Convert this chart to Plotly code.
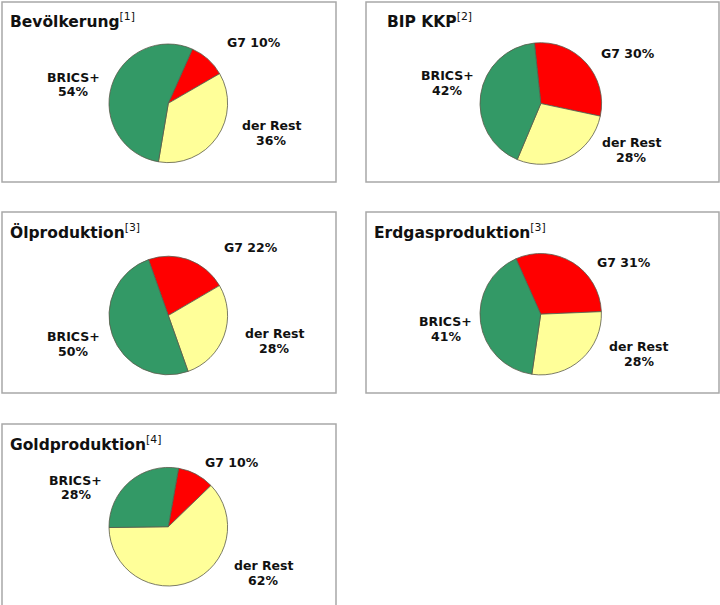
import plotly.graph_objects as go

W, H = 720, 605

categories = ["G7", "der Rest", "BRICS+"]
colors = ["#FF0000", "#FFFF99", "#339966"]

titles = ["Bevölkerung", "BIP KKP", "Ölproduktion", "Erdgasproduktion", "Goldproduktion"]
refs = ["[1]", "[2]", "[3]", "[3]", "[4]"]

# shares in percent: G7, der Rest, BRICS+
bevoelkerung = [10, 36, 54]
bip_kkp = [30, 28, 42]
oel = [22, 28, 50]
erdgas = [31, 28, 41]
gold = [10, 62, 28]
series = [bevoelkerung, bip_kkp, oel, erdgas, gold]

# layout (pixels)
rotations = [24, -6, -19.5, -24, 10]
pie_c = [(168.3, 103.3, 59.3), (540.8, 103.5, 60.8), (168.3, 315.5, 59.3),
         (540.7, 314.2, 60.7), (168.3, 526.7, 59.3)]
boxes = [(2, 2, 336, 182), (366, 2, 719, 182), (2, 212, 336, 393),
         (366, 212, 719, 393), (2, 424, 336, 615)]
title_pos = [(8, 20), (385, 21), (8, 232), (372, 232), (8, 443)]
# label anchor centers: G7 (single line), Rest (two lines), BRICS (two lines)
g7_pos = [(254, 42), (627.5, 53), (251, 247), (623.7, 262), (231.7, 462)]
rest_pos = [(271, 133), (631, 150), (274, 341), (638.7, 354), (263, 573)]
brics_pos = [(73, 84.5), (447, 83), (73, 344), (445.5, 329), (75.8, 487.5)]

FONT = "DejaVu Sans"
LBL = 12.5


def px(x):
    return x / W


def py(y):
    return 1 - y / H


fig = go.Figure()
annotations = []
shapes = []

for i, vals in enumerate(series):
    cx, cy, r = pie_c[i]
    fig.add_trace(go.Pie(
        labels=categories, values=vals, sort=False, direction="clockwise",
        rotation=rotations[i], textinfo="none", showlegend=False,
        marker=dict(colors=colors, line=dict(color="#5a5a4a", width=0.8)),
        domain=dict(x=[px(cx - r), px(cx + r)], y=[py(cy + r), py(cy - r)]),
    ))
    x0, y0, x1, y1 = boxes[i]
    shapes.append(dict(type="rect", xref="paper", yref="paper",
                       x0=px(x0), x1=px(x1), y0=py(y1), y1=py(y0),
                       line=dict(color="#a8a8a8", width=1.5), fillcolor="rgba(0,0,0,0)",
                       layer="below"))
    tx, ty = title_pos[i]
    annotations.append(dict(
        x=px(tx), y=py(ty), xref="paper", yref="paper", xanchor="left", yanchor="middle",
        text=f"<b>{titles[i]}</b><sup>{refs[i]}</sup>",
        showarrow=False, font=dict(family=FONT, size=15.5, color="#111")))
    # G7 label
    gx, gy = g7_pos[i]
    annotations.append(dict(
        x=px(gx), y=py(gy), xref="paper", yref="paper", xanchor="center", yanchor="middle",
        text=f"<b>{categories[0]} {vals[0]}%</b>", showarrow=False,
        font=dict(family=FONT, size=LBL, color="#111")))
    for (lx, ly), k in ((rest_pos[i], 1), (brics_pos[i], 2)):
        annotations.append(dict(
            x=px(lx), y=py(ly - 7.3), xref="paper", yref="paper", xanchor="center", yanchor="middle",
            text=f"<b>{categories[k]}</b>", showarrow=False,
            font=dict(family=FONT, size=LBL, color="#111")))
        annotations.append(dict(
            x=px(lx), y=py(ly + 7.3), xref="paper", yref="paper", xanchor="center", yanchor="middle",
            text=f"<b>{vals[k]}%</b>", showarrow=False,
            font=dict(family=FONT, size=LBL, color="#111")))

fig.update_layout(
    width=W, height=H, margin=dict(l=0, r=0, t=0, b=0),
    paper_bgcolor="white", plot_bgcolor="white",
    shapes=shapes, annotations=annotations,
)

fig.write_html("out.html")
